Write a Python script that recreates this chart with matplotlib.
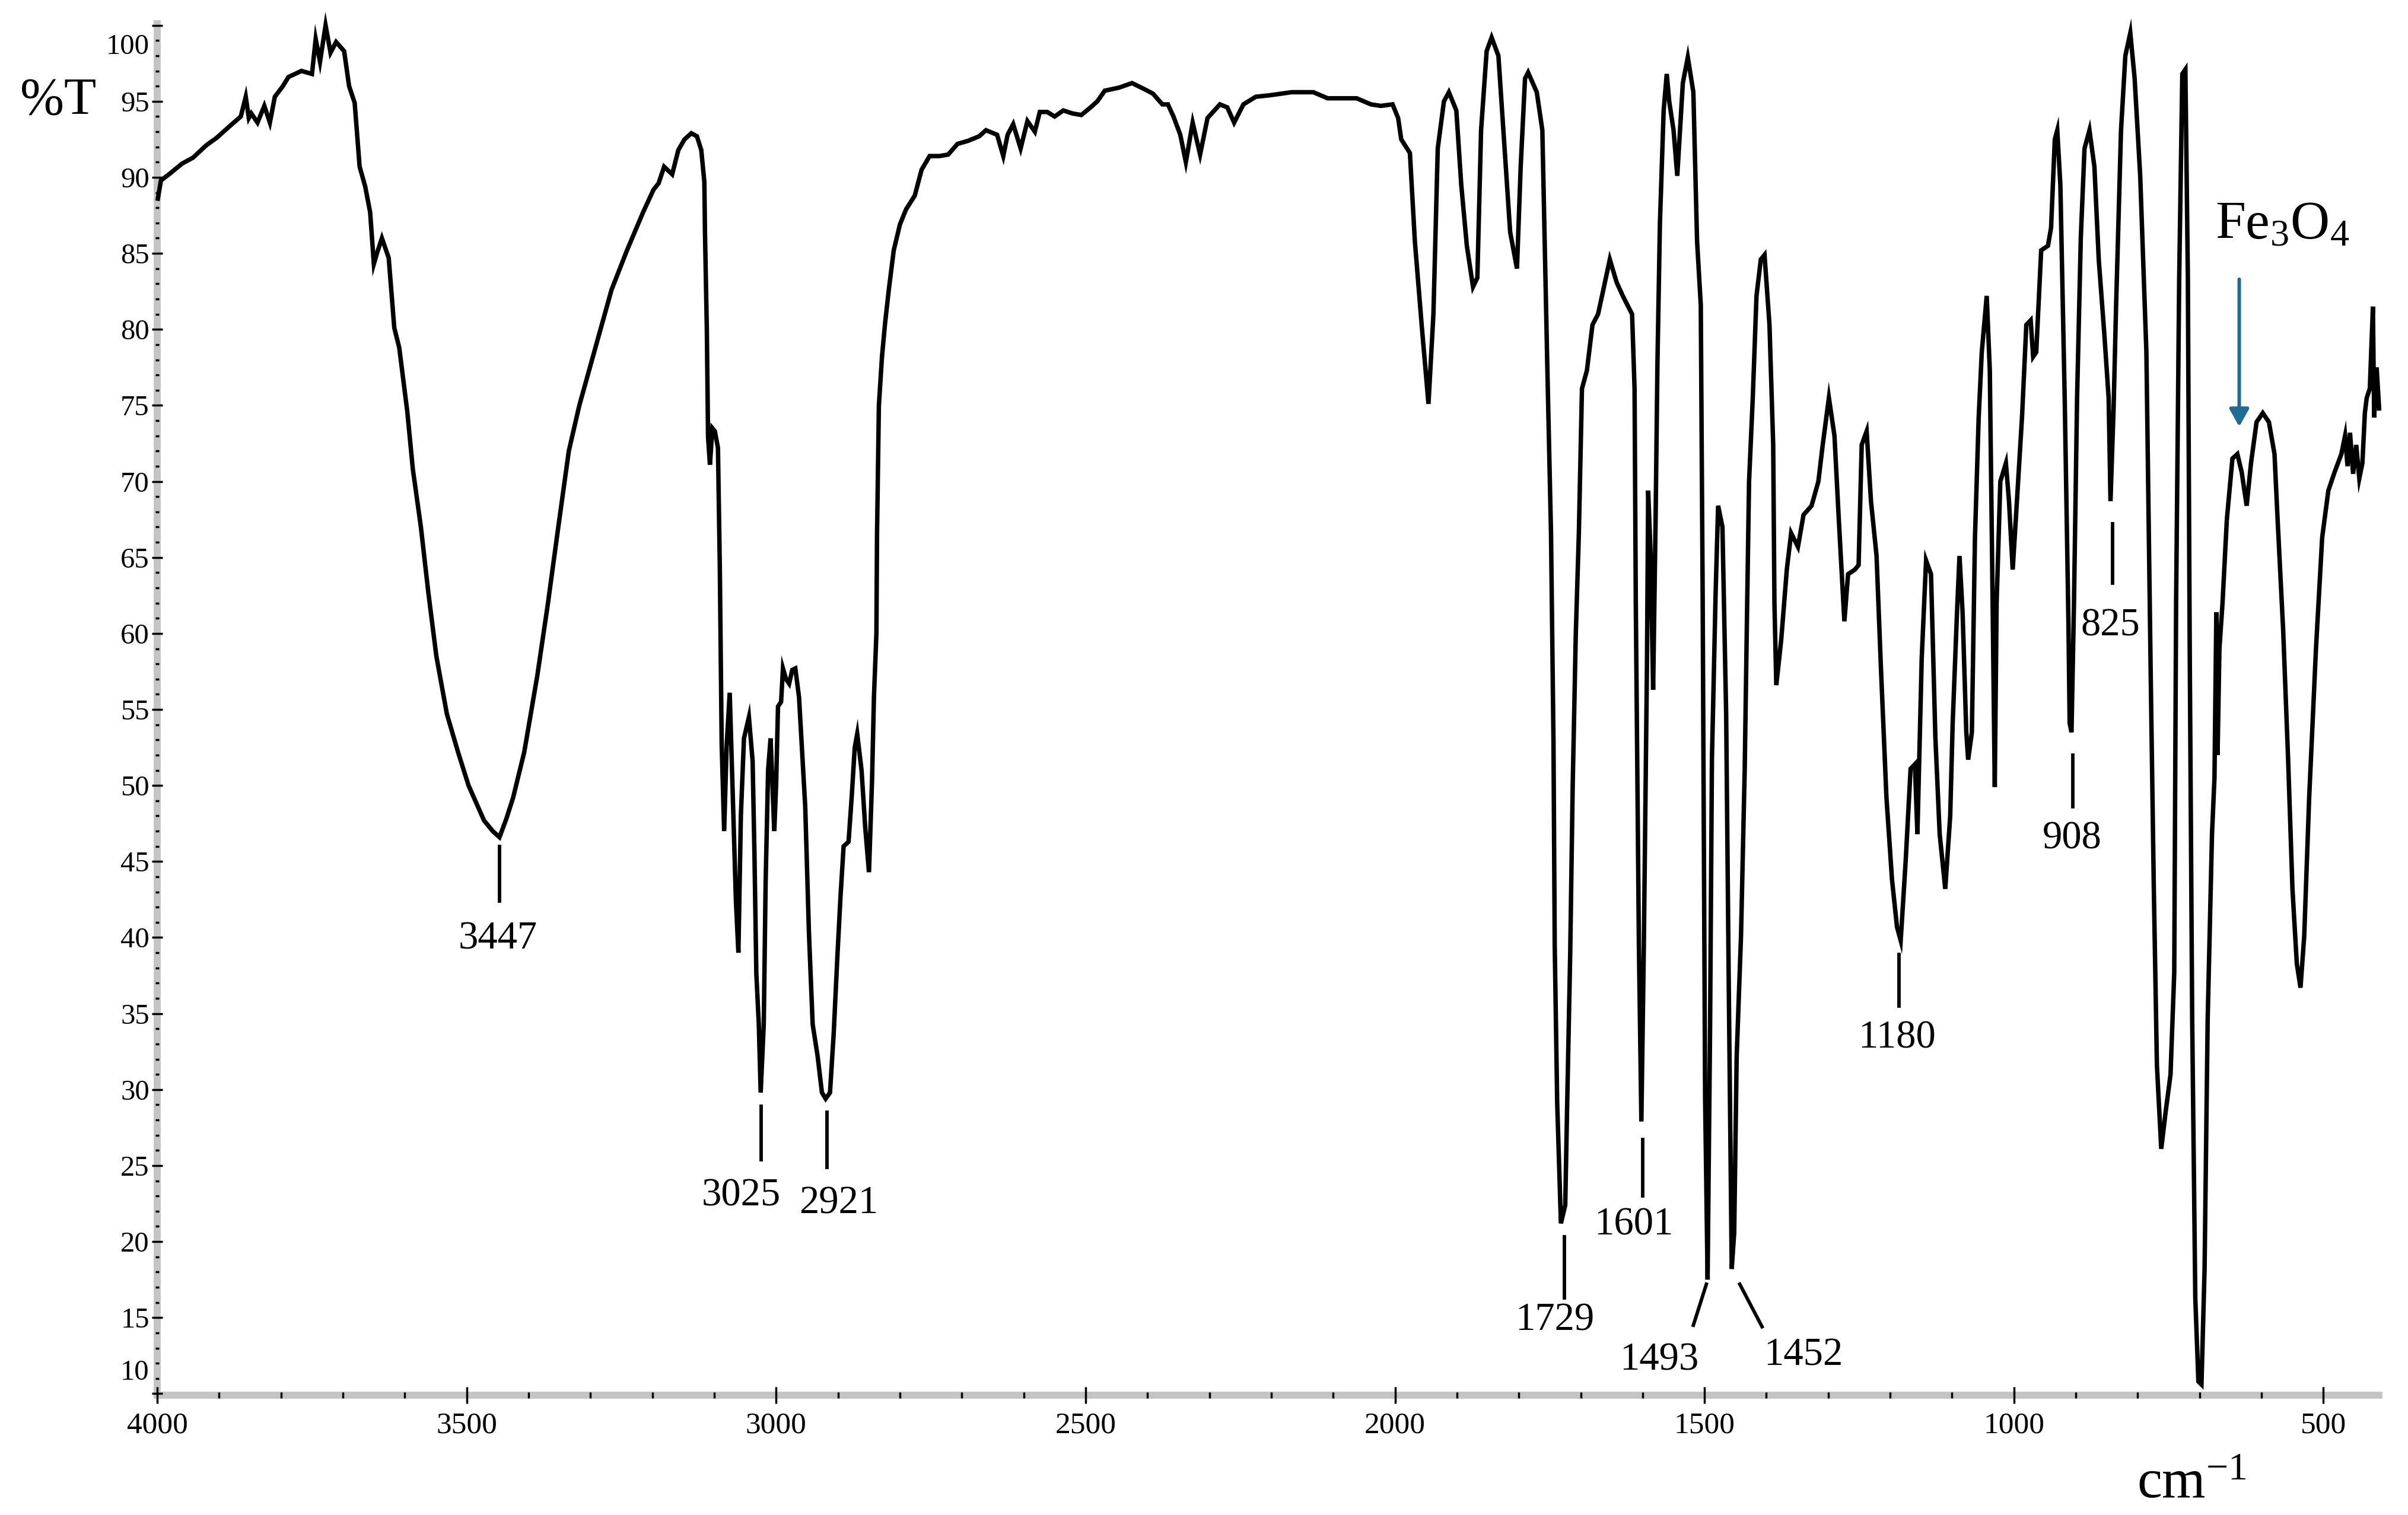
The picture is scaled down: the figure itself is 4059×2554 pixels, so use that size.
import numpy as np
import matplotlib
matplotlib.use('Agg')
import matplotlib.pyplot as plt
from matplotlib import rcParams

# ======================
# global style
# ======================
rcParams['font.family'] = ['Liberation Serif', 'DejaVu Serif']
rcParams['mathtext.fontset'] = 'custom'
rcParams['mathtext.rm'] = 'Liberation Serif'
rcParams['mathtext.it'] = 'Liberation Serif:italic'

# ======================
# spectrum: wavenumber (cm-1) / %T
# ======================
wavenumber = [
    3999, 3994, 3981, 3960, 3942, 3921, 3904, 3882, 3865, 3857, 3852, 3848, 3838, 3827, 3818, 3810,
    3797, 3788, 3767, 3750, 3744, 3737, 3728, 3720, 3711, 3698, 3690, 3681, 3673, 3664, 3656, 3650,
    3645, 3637, 3626, 3617, 3609, 3596, 3587, 3574, 3562, 3549, 3532, 3514, 3497, 3472, 3458, 3447,
    3436, 3425, 3407, 3386, 3369, 3352, 3335, 3318, 3292, 3266, 3241, 3215, 3198, 3190, 3181, 3168,
    3158, 3148, 3137, 3128, 3121, 3116, 3115, 3112, 3110, 3107, 3103, 3099, 3094, 3091, 3088, 3084,
    3080, 3075, 3070, 3065, 3061, 3057, 3052, 3044, 3038, 3035, 3032, 3028, 3025, 3020, 3017, 3013,
    3009, 3006, 3003, 3000, 2997, 2992, 2989, 2984, 2979, 2974, 2969, 2963, 2958, 2953, 2950, 2947,
    2941, 2933, 2926, 2920, 2913, 2907, 2901, 2896, 2891, 2883, 2878, 2873, 2869, 2862, 2856, 2850,
    2845, 2842, 2838, 2837, 2834, 2829, 2824, 2818, 2810, 2800, 2790, 2776, 2765, 2752, 2736, 2722,
    2707, 2690, 2672, 2661, 2643, 2633, 2626, 2617, 2605, 2594, 2582, 2574, 2562, 2550, 2536, 2521,
    2507, 2492, 2481, 2469, 2446, 2425, 2405, 2391, 2376, 2367, 2358, 2347, 2338, 2327, 2315, 2303,
    2283, 2271, 2260, 2245, 2225, 2202, 2167, 2132, 2109, 2062, 2039, 2023, 2004, 1995, 1990, 1976,
    1968, 1957, 1946, 1938, 1931, 1921, 1913, 1901, 1893, 1884, 1874, 1867, 1861, 1852, 1844, 1833,
    1824, 1814, 1803, 1797, 1790, 1785, 1771, 1762, 1754, 1748, 1744, 1742, 1738, 1732, 1725, 1722,
    1717, 1713, 1708, 1703, 1698, 1690, 1681, 1672, 1664, 1653, 1642, 1632, 1617, 1613, 1611, 1606,
    1602, 1598, 1593, 1591, 1587, 1583, 1579, 1576, 1572, 1566, 1561, 1557, 1550, 1544, 1535, 1527,
    1518, 1512, 1506, 1503, 1499, 1495, 1491, 1488, 1482, 1478, 1471, 1465, 1461, 1456, 1452, 1448,
    1441, 1435, 1431, 1428, 1422, 1416, 1409, 1403, 1395, 1389, 1387, 1384, 1376, 1367, 1360, 1349,
    1340, 1327, 1316, 1309, 1299, 1290, 1283, 1274, 1268, 1257, 1251, 1246, 1238, 1231, 1222, 1215,
    1206, 1197, 1189, 1183, 1175, 1167, 1160, 1156, 1153, 1149, 1142, 1134, 1127, 1120, 1111, 1103,
    1099, 1092, 1088, 1083, 1077, 1074, 1068, 1063, 1057, 1052, 1044, 1039, 1035, 1031, 1028, 1022,
    1013, 1008, 1002, 997, 987, 980, 973, 969, 964, 956, 945, 940, 934, 930, 925, 918,
    912, 910, 907, 903, 898, 892, 886, 878, 870, 863, 854, 847, 844, 839, 835, 827,
    820, 812, 805, 796, 786, 779, 774, 769, 762, 755, 747, 741, 738, 733, 728, 723,
    719, 716, 712, 707, 702, 697, 692, 687, 680, 676, 673, 671, 668, 663, 656, 647,
    639, 632, 624, 617, 608, 598, 588, 579, 574, 565, 557, 550, 543, 537, 531, 523,
    512, 502, 492, 482, 471, 465, 461, 457, 452, 447, 442, 437, 433, 430, 425, 420,
    418, 414, 410,
]
transmittance = [
    88.6, 89.8, 90.2, 90.9, 91.3, 92.1, 92.6, 93.4, 94.0, 95.3, 93.9, 94.2, 93.6, 94.7, 93.6, 95.3,
    96.0, 96.6, 97.0, 96.8, 99.1, 97.6, 100.0, 98.2, 98.9, 98.3, 96.0, 94.9, 90.7, 89.4, 87.7, 84.3,
    85.0, 86.0, 84.7, 80.1, 78.8, 74.6, 70.8, 67.0, 62.7, 58.5, 54.7, 52.2, 50.0, 47.7, 47.0, 46.6,
    47.8, 49.2, 52.2, 57.2, 61.9, 67.0, 72.0, 75.0, 78.8, 82.6, 85.2, 87.7, 89.2, 89.6, 90.7, 90.2,
    91.8, 92.5, 92.9, 92.7, 91.8, 89.7, 86.4, 80.0, 72.9, 71.1, 73.5, 73.3, 72.2, 64.3, 52.7, 47.0,
    52.6, 56.1, 49.3, 42.4, 39.0, 48.0, 53.1, 54.5, 51.6, 45.4, 37.6, 34.3, 29.8, 34.3, 43.6, 51.0,
    53.1, 50.1, 47.0, 50.1, 55.2, 55.5, 57.7, 57.0, 56.7, 57.6, 57.7, 55.8, 52.2, 48.6, 44.5, 40.3,
    34.3, 32.2, 29.8, 29.4, 29.8, 33.7, 38.8, 42.7, 46.0, 46.3, 49.2, 52.5, 53.4, 51.0, 47.2, 44.3,
    50.4, 55.8, 60.0, 66.5, 75.0, 78.2, 80.4, 82.6, 85.2, 86.9, 87.9, 88.8, 90.5, 91.4, 91.4, 91.5,
    92.2, 92.4, 92.7, 93.1, 92.8, 91.4, 92.8, 93.5, 91.9, 93.7, 93.0, 94.3, 94.3, 94.0, 94.4, 94.2,
    94.1, 94.6, 95.0, 95.7, 95.9, 96.2, 95.8, 95.5, 94.8, 94.8, 94.0, 92.8, 91.0, 93.6, 91.5, 93.9,
    94.8, 94.6, 93.6, 94.8, 95.3, 95.4, 95.6, 95.6, 95.2, 95.2, 94.8, 94.7, 94.8, 93.9, 92.5, 91.6,
    85.8, 80.3, 75.1, 81.0, 91.9, 95.0, 95.6, 94.4, 89.5, 85.5, 82.8, 83.4, 93.1, 98.3, 99.2, 98.0,
    92.5, 86.4, 84.0, 90.7, 96.5, 96.9, 95.6, 93.1, 77.6, 66.6, 52.9, 39.5, 29.1, 21.2, 22.4, 28.8,
    38.9, 49.9, 59.9, 66.6, 76.1, 77.3, 80.3, 81.0, 82.5, 84.6, 83.1, 82.2, 81.0, 76.1, 62.0, 39.5,
    27.9, 39.5, 57.8, 69.4, 65.1, 56.3, 67.5, 77.9, 87.0, 94.4, 96.8, 95.0, 93.1, 90.1, 96.2, 97.9,
    95.6, 85.8, 81.6, 62.7, 29.4, 17.5, 34.0, 51.7, 62.7, 68.4, 67.0, 54.7, 37.7, 18.2, 20.6, 32.2,
    40.1, 51.1, 62.1, 70.0, 75.5, 82.2, 84.6, 84.9, 80.3, 72.4, 62.0, 56.6, 59.6, 64.2, 66.6, 65.7,
    67.8, 68.4, 70.0, 72.4, 75.5, 73.0, 67.5, 60.8, 63.9, 64.2, 64.5, 72.4, 73.3, 68.7, 65.1, 57.8,
    49.2, 43.8, 40.7, 39.8, 45.0, 51.1, 51.4, 46.8, 51.7, 58.4, 64.8, 63.9, 53.2, 46.8, 43.2, 48.0,
    54.1, 61.4, 65.1, 61.4, 53.5, 51.7, 53.5, 66.3, 74.2, 78.5, 82.2, 77.3, 63.9, 49.9, 62.0, 70.0,
    71.2, 68.7, 64.2, 67.5, 74.2, 80.3, 80.6, 78.2, 78.5, 85.2, 85.5, 86.7, 92.5, 93.1, 89.5, 75.5,
    60.8, 54.1, 53.5, 62.0, 75.5, 86.0, 91.9, 93.1, 90.7, 84.6, 79.7, 75.5, 68.7, 74.8, 81.5, 93.1,
    98.0, 99.5, 96.5, 90.1, 78.5, 57.2, 43.2, 31.6, 26.1, 28.5, 31.0, 37.7, 62.0, 83.4, 96.8, 97.1,
    83.4, 59.0, 34.6, 16.3, 10.8, 10.6, 18.2, 34.6, 46.8, 50.5, 61.4, 52.0, 59.0, 62.0, 67.5, 71.5,
    71.8, 70.6, 68.4, 71.2, 73.9, 74.5, 73.9, 71.8, 67.5, 60.2, 51.7, 43.2, 38.3, 36.7, 40.1, 49.2,
    59.0, 66.3, 69.4, 70.6, 71.8, 73.0, 71.0, 73.2, 70.5, 72.4, 70.2, 71.2, 74.5, 75.5, 76.1, 81.5,
    74.2, 77.5, 74.8,
]

# peak annotations
peak_labels = ['3447', '3025', '2921', '1729', '1601', '1493', '1452', '1180', '908', '825']
# marker segment ends (x0, y0, x1, y1) and label centres (x, y)
marker_segs = [
    (3447, 46.0, 3447, 42.4), (3024, 28.9, 3024, 25.4), (2918, 28.5, 2918, 24.9),
    (1726, 20.3, 1726, 16.3), (1600, 26.7, 1600, 23.0), (1497, 17.2, 1518, 14.5),
    (1443, 17.2, 1407, 14.4), (1186, 38.9, 1186, 35.5), (905, 52.0, 905, 48.6),
    (841, 67.2, 841, 63.3),
]
label_pos = [
    (3450, 39.9), (3057, 23.0), (2899, 22.5), (1742, 14.8), (1614, 21.1),
    (1573, 12.2), (1340, 12.5), (1189, 33.4), (906, 46.5), (844, 60.5),
]

# ======================
# figure
# ======================
fig = plt.figure(figsize=(40.59, 25.54), dpi=100)
fig.set_facecolor('white')
ax = fig.add_axes([0.0653, 0.0791, 0.9227, 0.9052])

ax.plot(wavenumber, transmittance, color='black', linewidth=5.4,
        solid_joinstyle='miter', clip_on=False, zorder=3)

ax.set_xlim(4000, 410)
ax.set_ylim(9.9, 100.1)

# axes / ticks (gray axis band under black ticks)
for side in ['top', 'right']:
    ax.spines[side].set_visible(False)
for side in ['left', 'bottom']:
    ax.spines[side].set_color('#c4c4c4')
    ax.spines[side].set_linewidth(8.5)
    ax.spines[side].set_zorder(0.4)
ax.xaxis.set_zorder(2)
ax.yaxis.set_zorder(2)

ax.set_xticks(np.arange(500, 4001, 500))
ax.set_xticks(np.arange(500, 4001, 100), minor=True)
ax.set_yticks(np.arange(10, 101, 5))
ax.set_yticks(np.arange(10, 101, 1), minor=True)
ylabels = [str(v) for v in range(10, 101, 5)]
ylabels[0] = ''
ylabels[-1] = ''
ax.set_yticklabels(ylabels)

ax.tick_params(axis='x', which='major', direction='inout', length=20, width=2.5,
               labelsize=37, pad=10, color='black')
ax.tick_params(axis='x', which='minor', direction='inout', length=7, width=2.5, color='black')
ax.tick_params(axis='y', which='major', direction='inout', length=13, width=2.5,
               labelsize=35, pad=3, color='black')
ax.tick_params(axis='y', which='minor', direction='inout', length=4, width=2.5, color='black')

# the 100 and 10 labels sit inside the axis ends
for val, ypos in [('100', 98.6), ('10', 11.4)]:
    ax.annotate(val, xy=(0, ypos), xycoords=('axes fraction', 'data'),
                xytext=(-9.5, 0), textcoords='offset points',
                ha='right', va='center', fontsize=35)

# peak markers and labels
for (x0, y0, x1, y1), (tx, ty), lab in zip(marker_segs, label_pos, peak_labels):
    ax.plot([x0, x1], [y0, y1], color='black', linewidth=4.2, zorder=3)
    ax.text(tx, ty, lab, fontsize=48, ha='center', va='center')

# Fe3O4 arrow
ax.annotate('', xy=(636, 73.6), xytext=(636, 83.3),
            arrowprops=dict(arrowstyle='-|>,head_length=0.9,head_width=0.5',
                            mutation_scale=20, color='#1f6b93', lw=4.3,
                            shrinkA=0, shrinkB=0))
ax.text(675, 86.0, r'Fe$_3$O$_4$', fontsize=66, ha='left', va='baseline')

# axis titles
fig.text(0.0241, 0.9334, '%T', fontsize=64, ha='center', va='center')
fig.text(0.8874, 0.0114, r'cm$^{-1}$', fontsize=68, ha='left', va='baseline')

plt.savefig('out.png', dpi=100, facecolor='white')
